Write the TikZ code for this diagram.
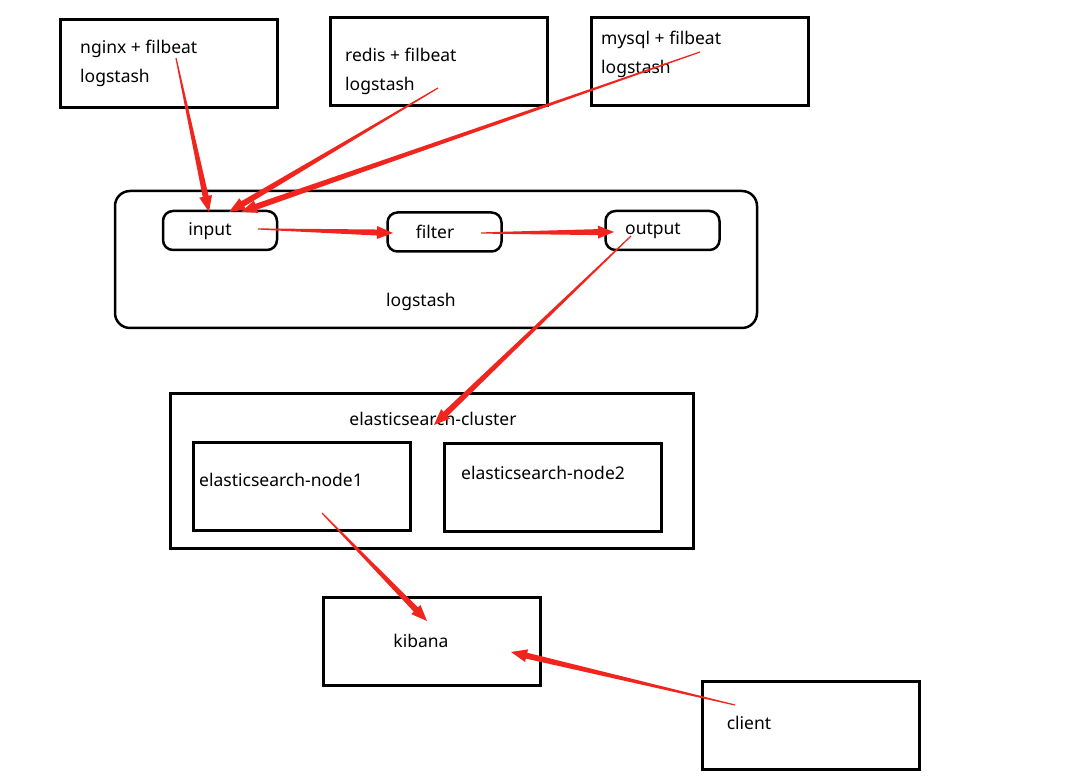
\documentclass[tikz,border=0pt]{standalone}
\usepackage{fontspec}
\setmainfont{Noto Sans}
\usetikzlibrary{calc,positioning}
\definecolor{arrowred}{RGB}{240,38,30}

% Pfeil, der vom Anfang zur Spitze breiter wird
\newcommand{\taperarrow}[2]{%
  \path ($(#2)!16pt!(#1)$) coordinate (tipbase);
  \fill[arrowred] ($(#1)!0.6pt!90:(#2)$) -- ($(tipbase)!3pt!90:(#2)$)
    -- ($(tipbase)!6.5pt!90:(#2)$) -- (#2) -- ($(tipbase)!6.5pt!-90:(#2)$)
    -- ($(tipbase)!3pt!-90:(#2)$) -- ($(#1)!0.6pt!-90:(#2)$) -- cycle;
}

\begin{document}
\begin{tikzpicture}[x=1pt, y=-1pt,
			box/.style={draw, line width=3pt, minimum width=217pt, minimum height=88pt, inner sep=0pt},
			stage/.style={draw, line width=2.5pt, rounded corners=10pt, minimum width=114pt, minimum height=39pt, inner sep=0pt},
			label/.style={inner sep=0pt, font=\fontsize{17.5}{21}\selectfont}]
			\useasboundingbox (0,0) rectangle (1090,783);
			% Quellen oben
			\node[box] (nginx) at (168.5,64) {};
			\node[box] (redis) at (439,62) {};
			\node[box] (mysql) at (699.5,62) {};
			\node[label, anchor=base west] (nginxa) at (80,54) {nginx + filbeat};
			\node[label, anchor=base west] (nginxb) at (80,83) {logstash};
			\node[label, anchor=base west] (redisa) at (345,62) {redis + filbeat};
			\node[label, anchor=base west] (redisb) at (345,91) {logstash};
			\node[label, anchor=base west] (mysqla) at (601,45) {mysql + filbeat};
			\node[label, anchor=base west] (mysqlb) at (601,74) {logstash};
			% Logstash mit Stufen
			\node[draw, line width=2.5pt, rounded corners=15pt, minimum width=642pt, minimum height=137pt] (logstash) at (436,259.5) {};
			\node[stage] (input) at (220,230.5) {};
			\node[stage] (filter) at (444.5,232) {};
			\node[stage] (output) at (662.5,230.5) {};
			\node[label, anchor=base] (inputl) at (210,236) {input};
			\node[label, anchor=base] (filterl) at (435,239) {filter};
			\node[label, anchor=base] (outputl) at (653,235) {output};
			\node[label, anchor=base] (logstashl) at (421,307) {logstash};
			% Elasticsearch
			\node[box, minimum width=523pt, minimum height=154pt] (cluster) at (431.5,471) {};
			\node[label, anchor=base] (clusterl) at (433,426) {elasticsearch-cluster};
			\node[box] (node1) at (301.5,486.5) {};
			\node[box] (node2) at (552.5,487.5) {};
			\node[label, anchor=base west] (node1l) at (199,486) {elasticsearch-node1};
			\node[label, anchor=base west] (node2l) at (461,479) {elasticsearch-node2};
			% Kibana und Client
			\node[box] (kibana) at (431.5,641.5) {};
			\node[box] (client) at (810.5,725.5) {};
			\node[label, anchor=base] (kibanal) at (421,647) {kibana};
			\node[label, anchor=base] (clientl) at (749,729) {client};
			% Pfeilenden
			\coordinate (nginxout) at (176,58);
			\coordinate (redisout) at (438,88);
			\coordinate (mysqlout) at (700,52);
			\coordinate (inputin1) at (209,212);
			\coordinate (inputin2) at (229,212);
			\coordinate (inputin3) at (241,212);
			\coordinate (inputout) at (258,229);
			\coordinate (filterin) at (393,233);
			\coordinate (filterout) at (481,233);
			\coordinate (outputin) at (614,232);
			\coordinate (outputout) at (631,236);
			\coordinate (clusterin) at (434,425);
			\coordinate (node1out) at (322,513);
			\coordinate (kibanain1) at (427,621);
			\coordinate (clientout) at (735,705);
			\coordinate (kibanain2) at (511,652);
			% Pfeile
			\taperarrow{nginxout}{inputin1}
			\taperarrow{redisout}{inputin2}
			\taperarrow{mysqlout}{inputin3}
			\taperarrow{inputout}{filterin}
			\taperarrow{filterout}{outputin}
			\taperarrow{outputout}{clusterin}
			\taperarrow{node1out}{kibanain1}
			\taperarrow{clientout}{kibanain2}
		\end{tikzpicture}
\end{document}
